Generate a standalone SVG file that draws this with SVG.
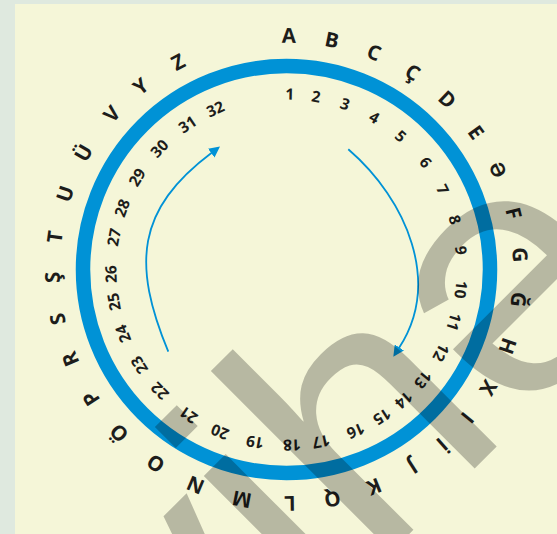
<svg xmlns="http://www.w3.org/2000/svg" width="557" height="534" viewBox="0 0 557 534">
<defs>
<style>
.L{font-family:"Open Sans","Liberation Sans",sans-serif;font-weight:700;font-size:20.5px;fill:#1d1d1b;text-anchor:middle}
.N{font-family:"Open Sans","Liberation Sans",sans-serif;font-weight:700;font-size:15.5px;fill:#1d1d1b;text-anchor:middle}
.arc{fill:none;stroke:#0092d6;stroke-width:1.8}
.wm{font-family:"Liberation Sans",Arial,sans-serif;font-size:352.6px;fill:#000;fill-opacity:0.25}
</style>
<marker id="ah" viewBox="0 0 11 11" refX="1" refY="5.5" markerWidth="11" markerHeight="11" markerUnits="userSpaceOnUse" orient="auto">
<path d="M0,0 L11,5.5 L0,11 Z" fill="#0092d6"/>
</marker>
</defs>
<rect x="0" y="0" width="557" height="534" fill="#dfe9df"/>
<rect x="15" y="4" width="542" height="530" fill="#f5f6d8"/>
<g id="ring">
<circle cx="286.5" cy="269.5" r="203.5" fill="none" stroke="#0092d6" stroke-width="14.5"/>
</g>
<g id="connectors">
<path class="arc" d="M168.3,351.7 C132.2,264.3 136,209.5 212,152.5" marker-end="url(#ah)"/>
<path class="arc" d="M348.3,149.3 C407.3,200.4 441.7,282.8 398.8,348.3" marker-end="url(#ah)"/>
</g>
<g id="letters">
<text class="L" x="286.5" y="42.8" transform="rotate(0.6 286.5 269.5)">A</text>
<text class="L" x="286.5" y="42.8" transform="rotate(11.2 286.5 269.5)">B</text>
<text class="L" x="286.5" y="42.8" transform="rotate(22 286.5 269.5)">C</text>
<text class="L" x="286.5" y="42.8" transform="rotate(32.6 286.5 269.5)">Ç</text>
<text class="L" x="286.5" y="42.8" transform="rotate(43.4 286.5 269.5)">D</text>
<text class="L" x="286.5" y="42.8" transform="rotate(54.1 286.5 269.5)">E</text>
<text class="L" x="286.5" y="42.8" transform="rotate(64.7 286.5 269.5)">Ə</text>
<text class="L" x="286.5" y="42.8" transform="rotate(76.1 286.5 269.5)">F</text>
<text class="L" x="286.5" y="42.8" transform="rotate(86.4 286.5 269.5)">G</text>
<text class="L" x="286.5" y="42.8" transform="rotate(97.4 286.5 269.5)">Ğ</text>
<text class="L" x="286.5" y="42.8" transform="rotate(109.1 286.5 269.5)">H</text>
<text class="L" x="286.5" y="42.8" transform="rotate(120.4 286.5 269.5)">X</text>
<text class="L" x="286.5" y="42.8" transform="rotate(129.3 286.5 269.5)">I</text>
<text class="L" x="286.5" y="42.8" transform="rotate(138.3 286.5 269.5)">İ</text>
<text class="L" x="286.5" y="42.8" transform="rotate(147.4 286.5 269.5)">J</text>
<text class="L" x="286.5" y="42.8" transform="rotate(158 286.5 269.5)">K</text>
<text class="L" x="286.5" y="42.8" transform="rotate(168.7 286.5 269.5)">Q</text>
<text class="L" x="286.5" y="42.8" transform="rotate(179.2 286.5 269.5)">L</text>
<text class="L" x="286.5" y="42.8" transform="rotate(191 286.5 269.5)">M</text>
<text class="L" x="286.5" y="42.8" transform="rotate(202.9 286.5 269.5)">N</text>
<text class="L" x="286.5" y="42.8" transform="rotate(214 286.5 269.5)">O</text>
<text class="L" x="286.5" y="42.8" transform="rotate(225.7 286.5 269.5)">Ö</text>
<text class="L" x="286.5" y="42.8" transform="rotate(236.6 286.5 269.5)">P</text>
<text class="L" x="286.5" y="42.8" transform="rotate(247.5 286.5 269.5)">R</text>
<text class="L" x="286.5" y="42.8" transform="rotate(257.8 286.5 269.5)">S</text>
<text class="L" x="286.5" y="42.8" transform="rotate(268.1 286.5 269.5)">Ş</text>
<text class="L" x="286.5" y="42.8" transform="rotate(278 286.5 269.5)">T</text>
<text class="L" x="286.5" y="42.8" transform="rotate(288.9 286.5 269.5)">U</text>
<text class="L" x="286.5" y="42.8" transform="rotate(299.9 286.5 269.5)">Ü</text>
<text class="L" x="286.5" y="42.8" transform="rotate(311.7 286.5 269.5)">V</text>
<text class="L" x="286.5" y="42.8" transform="rotate(321.5 286.5 269.5)">Y</text>
<text class="L" x="286.5" y="42.8" transform="rotate(332.4 286.5 269.5)">Z</text>
</g>
<g id="numbers">
<text class="N" x="286.5" y="99.5" transform="rotate(1.1 286.5 269.5)">1</text>
<text class="N" x="286.5" y="99.5" transform="rotate(9.7 286.5 269.5)">2</text>
<text class="N" x="286.5" y="99.5" transform="rotate(19.5 286.5 269.5)">3</text>
<text class="N" x="286.5" y="99.5" transform="rotate(30 286.5 269.5)">4</text>
<text class="N" x="286.5" y="99.5" transform="rotate(40.6 286.5 269.5)">5</text>
<text class="N" x="286.5" y="99.5" transform="rotate(52.4 286.5 269.5)">6</text>
<text class="N" x="286.5" y="99.5" transform="rotate(62.9 286.5 269.5)">7</text>
<text class="N" x="286.5" y="99.5" transform="rotate(73.5 286.5 269.5)">8</text>
<text class="N" x="286.5" y="99.5" transform="rotate(83.7 286.5 269.5)">9</text>
<text class="N" x="286.5" y="99.5" transform="rotate(96.6 286.5 269.5)">10</text>
<text class="N" x="286.5" y="99.5" transform="rotate(107.4 286.5 269.5)">11</text>
<text class="N" x="286.5" y="99.5" transform="rotate(118.3 286.5 269.5)">12</text>
<text class="N" x="286.5" y="99.5" transform="rotate(128.9 286.5 269.5)">13</text>
<text class="N" x="286.5" y="99.5" transform="rotate(138 286.5 269.5)">14</text>
<text class="N" x="286.5" y="99.5" transform="rotate(147 286.5 269.5)">15</text>
<text class="N" x="286.5" y="99.5" transform="rotate(156.8 286.5 269.5)">16</text>
<text class="N" x="286.5" y="99.5" transform="rotate(168.6 286.5 269.5)">17</text>
<text class="N" x="286.5" y="99.5" transform="rotate(178.2 286.5 269.5)">18</text>
<text class="N" x="286.5" y="99.5" transform="rotate(190.3 286.5 269.5)">19</text>
<text class="N" x="286.5" y="99.5" transform="rotate(202.3 286.5 269.5)">20</text>
<text class="N" x="286.5" y="99.5" transform="rotate(213.9 286.5 269.5)">21</text>
<text class="N" x="286.5" y="99.5" transform="rotate(226.2 286.5 269.5)">22</text>
<text class="N" x="286.5" y="99.5" transform="rotate(237 286.5 269.5)">23</text>
<text class="N" x="286.5" y="99.5" transform="rotate(248.5 286.5 269.5)">24</text>
<text class="N" x="286.5" y="99.5" transform="rotate(259.4 286.5 269.5)">25</text>
<text class="N" x="286.5" y="99.5" transform="rotate(268.5 286.5 269.5)">26</text>
<text class="N" x="286.5" y="99.5" transform="rotate(280.6 286.5 269.5)">27</text>
<text class="N" x="286.5" y="99.5" transform="rotate(290.5 286.5 269.5)">28</text>
<text class="N" x="286.5" y="99.5" transform="rotate(301.7 286.5 269.5)">29</text>
<text class="N" x="286.5" y="99.5" transform="rotate(313.6 286.5 269.5)">30</text>
<text class="N" x="286.5" y="99.5" transform="rotate(325.7 286.5 269.5)">31</text>
<text class="N" x="286.5" y="99.5" transform="rotate(336.1 286.5 269.5)">32</text>
</g>
<g id="watermark">
<text class="wm" x="-392.4" y="667" transform="rotate(-45)">yihə</text>
</g>
</svg>
